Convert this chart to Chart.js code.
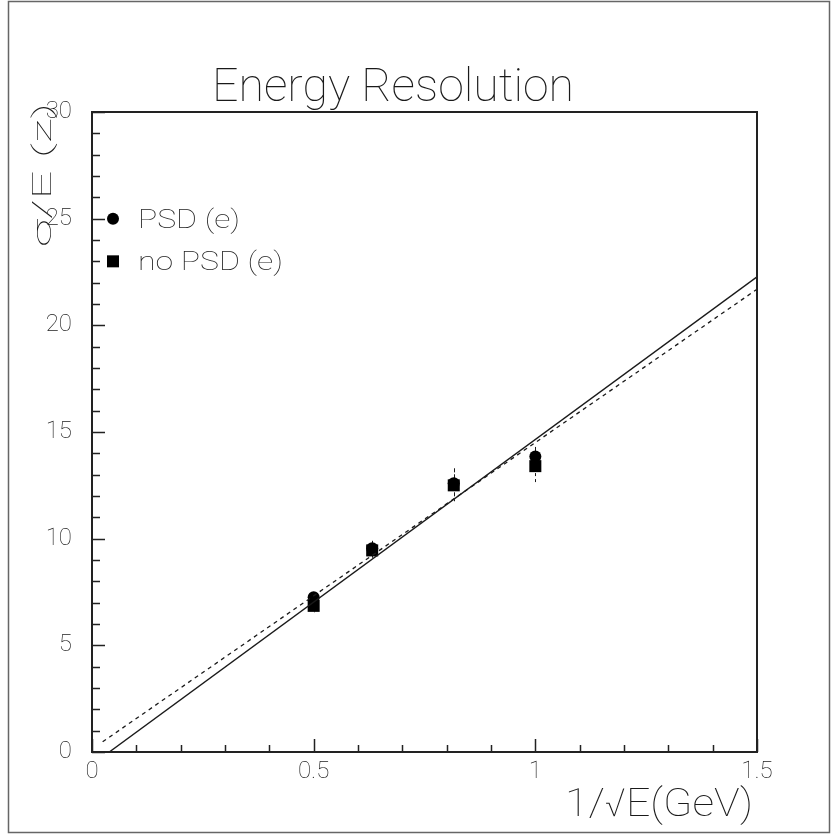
<!DOCTYPE html>
<html>
<head>
<meta charset="utf-8">
<script src="https://cdn.jsdelivr.net/npm/chart.js@4/dist/chart.umd.min.js"></script>
<style>
  html, body { margin: 0; padding: 0; background: #fff; }
  canvas { display: block; }
</style>
</head>
<body>
<canvas id="c" width="832" height="834"></canvas>
<script>
// 1/sqrt(E) for beam energies 4, 2.5, 1.5 and 1 GeV
const invSqrtE = [0.5, 0.632, 0.816, 1.0];

// Energy resolution sigma/E (%) with pulse shape discrimination
const psdRes = [7.25, 9.55, 12.6, 13.85];
const psdErr = [0.25, 0.35, 0.7, 0.45];

// Energy resolution without pulse shape discrimination
const noPsdRes = [6.85, 9.45, 12.5, 13.4];
const noPsdErr = [0.3, 0.35, 0.75, 0.8];

// Linear fits (end points)
const fitSolidX = [0.039, 1.5];
const fitSolidY = [0, 22.27];
const fitDashX = [0.024, 1.5];
const fitDashY = [0.48, 21.69];

const xTickValues = [0, 0.5, 1, 1.5];
const yTickValues = [0, 5, 10, 15, 20, 25, 30];

const titleText = 'Energy Resolution';
const xTitleText = '1/√E(GeV)';
const yTitleText = 'σ/E (z)';
const legendLabels = ['PSD (e)', 'no PSD (e)'];

const INK = '#1a1a1a';
const FONT = 'Roboto';
const WEIGHT = '100';

function pts(xs, ys) { return xs.map((x, i) => ({ x, y: ys[i] })); }

// Draw a string stretched horizontally to a given width
function fitText(ctx, text, x, y, w, size, rot) {
  ctx.save();
  ctx.font = `${WEIGHT} ${size}px ${FONT}`;
  const m = ctx.measureText(text).width;
  ctx.translate(x, y);
  if (rot) ctx.rotate(rot);
  ctx.scale(w / m, 1);
  ctx.fillStyle = INK;
  ctx.textAlign = 'left';
  ctx.textBaseline = 'alphabetic';
  ctx.fillText(text, 0, 0);
  ctx.restore();
}

const decorations = {
  id: 'decorations',
  beforeDraw(chart) {
    const ctx = chart.ctx;
    ctx.save();
    ctx.fillStyle = '#fff';
    ctx.fillRect(0, 0, chart.width, chart.height);
    ctx.strokeStyle = '#666';
    ctx.lineWidth = 1.5;
    ctx.strokeRect(8.5, 1.5, 821, 831);
    ctx.restore();
  },
  beforeDatasetsDraw(chart) {
    // error bars
    const ctx = chart.ctx;
    const xs = chart.scales.x, ys = chart.scales.y;
    ctx.save();
    ctx.strokeStyle = INK;
    ctx.lineWidth = 1;
    ctx.setLineDash([3, 3]);
    const draw = (vals, errs) => {
      invSqrtE.forEach((xv, i) => {
        const px = Math.round(xs.getPixelForValue(xv)) + 0.5;
        ctx.beginPath();
        ctx.moveTo(px, ys.getPixelForValue(vals[i] + errs[i]));
        ctx.lineTo(px, ys.getPixelForValue(vals[i] - errs[i]));
        ctx.stroke();
      });
    };
    draw(psdRes, psdErr);
    draw(noPsdRes, noPsdErr);
    ctx.restore();
  },
  afterDraw(chart) {
    const ctx = chart.ctx;
    const a = chart.chartArea;
    const xs = chart.scales.x, ys = chart.scales.y;
    ctx.save();
    // frame
    ctx.strokeStyle = '#222';
    ctx.lineWidth = 2;
    ctx.strokeRect(a.left, a.top, a.right - a.left, a.bottom - a.top);
    // inward tick marks
    ctx.lineWidth = 1.5;
    ctx.beginPath();
    for (let i = 0; i <= 30; i++) {
      const py = Math.round(ys.getPixelForValue(i)) + 0.5;
      const len = i % 5 === 0 ? 13 : 8;
      ctx.moveTo(a.left, py);
      ctx.lineTo(a.left + len, py);
    }
    for (let i = 0; i <= 15; i++) {
      const px = Math.round(xs.getPixelForValue(i / 10)) + 0.5;
      const len = i % 5 === 0 ? 13 : 7;
      ctx.moveTo(px, a.bottom);
      ctx.lineTo(px, a.bottom - len);
    }
    ctx.stroke();

    // legend
    const lx = 113;
    const y1 = ys.getPixelForValue(25), y2 = ys.getPixelForValue(23);
    ctx.fillStyle = '#000';
    ctx.beginPath();
    ctx.arc(lx, y1, 6, 0, Math.PI * 2);
    ctx.fill();
    ctx.fillRect(lx - 6, y2 - 6, 12, 12);
    fitText(ctx, legendLabels[0], 138, y1 + 9, 102, 25);
    fitText(ctx, legendLabels[1], 138, y2 + 9, 145, 25);

    // titles
    fitText(ctx, titleText, 212, 101, 362, 46);
    fitText(ctx, xTitleText, 565, 816, 188, 39);
    fitText(ctx, yTitleText, 51, 247, 144, 25, -Math.PI / 2);
    ctx.restore();
  }
};

new Chart(document.getElementById('c'), {
  type: 'scatter',
  data: {
    datasets: [
      {
        label: 'fit PSD',
        data: pts(fitSolidX, fitSolidY),
        showLine: true,
        borderColor: INK,
        borderWidth: 1.4,
        pointRadius: 0,
        fill: false
      },
      {
        label: 'fit no PSD',
        data: pts(fitDashX, fitDashY),
        showLine: true,
        borderColor: INK,
        borderWidth: 1.3,
        borderDash: [4, 4],
        pointRadius: 0,
        fill: false
      },
      {
        label: legendLabels[0],
        data: pts(invSqrtE, psdRes),
        pointStyle: 'circle',
        pointRadius: 6,
        backgroundColor: '#000',
        borderColor: '#000',
        borderWidth: 0
      },
      {
        label: legendLabels[1],
        data: pts(invSqrtE, noPsdRes),
        pointStyle: 'rect',
        pointRadius: 8.5,
        backgroundColor: '#000',
        borderColor: '#000',
        borderWidth: 0
      }
    ]
  },
  options: {
    responsive: false,
    animation: false,
    devicePixelRatio: 1,
    layout: { padding: { left: 12, right: 75, top: 112, bottom: 32 } },
    plugins: {
      legend: { display: false },
      title: { display: false },
      tooltip: { enabled: false }
    },
    scales: {
      x: {
        type: 'linear',
        min: 0,
        max: 1.5,
        afterFit: s => { s.height = 50; },
        afterBuildTicks: s => { s.ticks = xTickValues.map(v => ({ value: v })); },
        grid: { display: false, drawTicks: false },
        border: { display: false },
        ticks: {
          padding: 6,
          color: INK,
          font: { family: FONT, weight: WEIGHT, size: 24 },
          maxRotation: 0,
          callback: v => String(v)
        }
      },
      y: {
        type: 'linear',
        min: 0,
        max: 30,
        afterFit: s => { s.width = 80; },
        afterBuildTicks: s => { s.ticks = yTickValues.map(v => ({ value: v })); },
        grid: { display: false, drawTicks: false },
        border: { display: false },
        ticks: {
          padding: 20,
          color: INK,
          font: { family: FONT, weight: WEIGHT, size: 24 },
          callback: v => String(v)
        }
      }
    }
  },
  plugins: [decorations]
});
</script>
</body>
</html>
